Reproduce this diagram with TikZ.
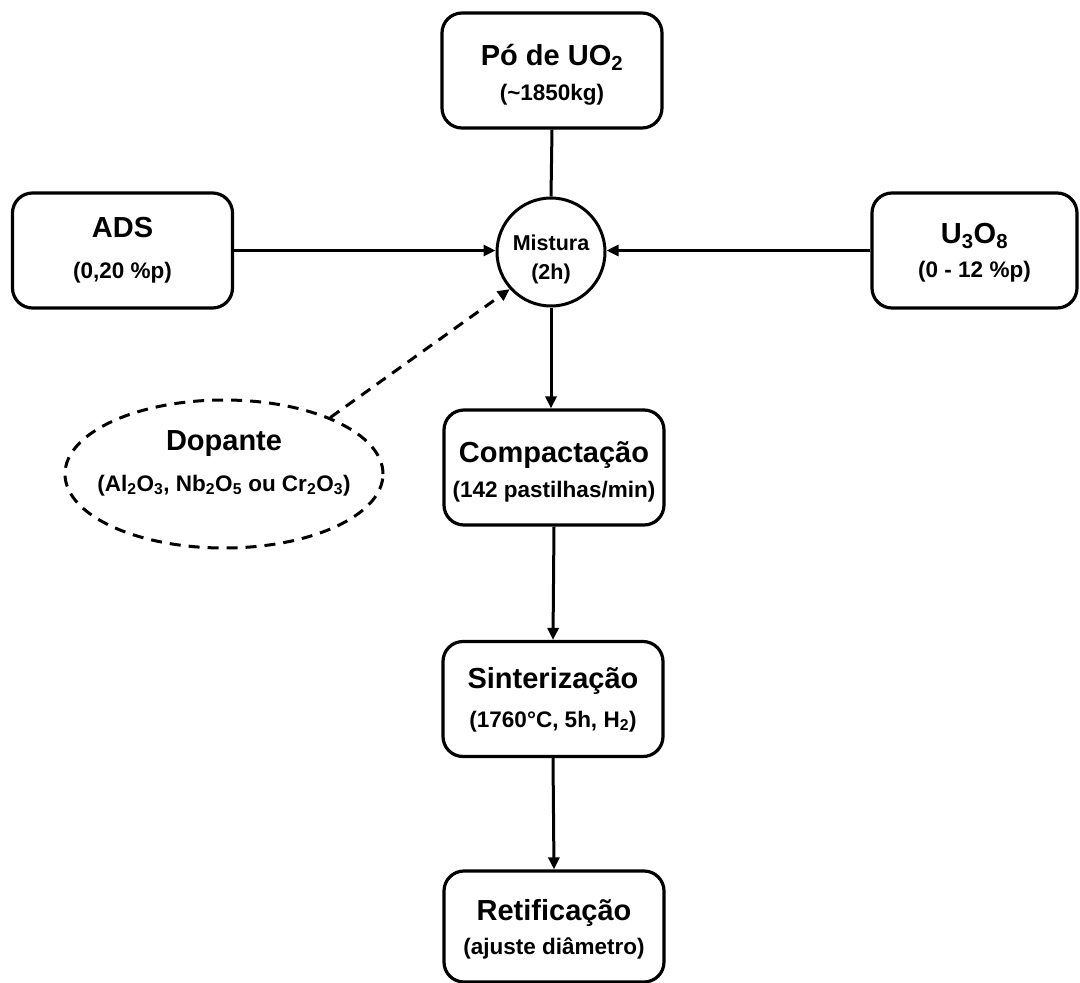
\documentclass[tikz,border=0pt]{standalone}
\usepackage{fontspec}
\setmainfont{Liberation Sans}
\usetikzlibrary{arrows.meta,shapes.geometric}
\begin{document}
\begin{tikzpicture}[x=1pt,y=-1pt,
  box/.style={draw, line width=3.2pt, rounded corners=20pt, minimum width=220pt, minimum height=115pt, inner sep=0pt},
  ttl/.style={anchor=base, inner sep=0pt, font=\bfseries\fontsize{29}{30}\selectfont},
  sub/.style={anchor=base, inner sep=0pt, font=\bfseries\fontsize{22.5}{24}\selectfont},
  conn/.style={line width=3pt},
  arr/.style={conn, -{Triangle[length=12pt,width=11pt]}},
  dsh/.style={dash pattern=on 11pt off 8pt},
]
\useasboundingbox (0,0) rectangle (1080,983);

% boxes
\node[box] (uo2) at (552,70.5) {};
\node[box] (ads) at (122.5,250.5) {};
\node[box, minimum width=205pt] (u3o8) at (974.5,250.5) {};
\node[draw, circle, line width=3pt, minimum size=108pt, inner sep=0pt] (mix) at (551,252) {};
\node[draw, ellipse, dsh, line width=3pt, minimum width=318pt, minimum height=148pt, inner sep=0pt] (dop) at (224,474) {};
\node[box] (comp) at (554,467.5) {};
\node[box] (sint) at (553,699) {};
\node[box, minimum height=111pt] (ret) at (554,926.5) {};

% texts
\node[ttl] (uo2t) at ([yshift=5.5pt]uo2.center) {Pó de UO\textsubscript{2}};
\node[sub] (uo2s) at ([yshift=-29.5pt]uo2.center) {(\textasciitilde1850kg)};
\node[ttl] (adst) at ([yshift=13pt]ads.center) {ADS};
\node[sub] (adss) at ([yshift=-27.5pt]ads.center) {(0,20 \%p)};
\node[ttl] (u3o8t) at ([yshift=7.5pt]u3o8.center) {U\textsubscript{3}O\textsubscript{8}};
\node[sub] (u3o8s) at ([yshift=-26.5pt]u3o8.center) {(0 - 12 \%p)};
\node[sub, font=\bfseries\fontsize{21.5}{24}\selectfont] (mixt) at ([yshift=2pt]mix.center) {Mistura};
\node[sub, font=\bfseries\fontsize{21.5}{24}\selectfont] (mixs) at ([yshift=-27pt]mix.center) {(2h)};
\node[ttl] (dopt) at ([yshift=24pt]dop.center) {Dopante};
\node[sub] (dops) at ([yshift=-17pt]dop.center) {(Al\textsubscript{2}O\textsubscript{3}, Nb\textsubscript{2}O\textsubscript{5} ou Cr\textsubscript{2}O\textsubscript{3})};
\node[ttl] (compt) at ([yshift=5.5pt]comp.center) {Compactação};
\node[sub] (comps) at ([yshift=-29.5pt]comp.center) {(142 pastilhas/min)};
\node[ttl] (sintt) at ([yshift=11pt]sint.center) {Sinterização};
\node[sub] (sints) at ([yshift=-28pt]sint.center) {(1760°C, 5h, H\textsubscript{2})};
\node[ttl] (rett) at ([yshift=6.5pt]ret.center) {Retificação};
\node[sub] (rets) at ([yshift=-27.5pt]ret.center) {(ajuste diâmetro)};

% connectors
\draw[conn] (uo2.south) -- (mix.north);
\draw[arr] (ads.east) -- (ads.east -| mix.west);
\draw[arr] (u3o8.west) -- (u3o8.west -| mix.east);
\draw[arr, dsh] (dop.28) -- (mix.222);
\draw[arr] (mix.south) -- (mix.south |- comp.north);
\draw[arr] (comp.south) -- (sint.north);
\draw[arr] (sint.south) -- (ret.north);
\end{tikzpicture}
\end{document}
